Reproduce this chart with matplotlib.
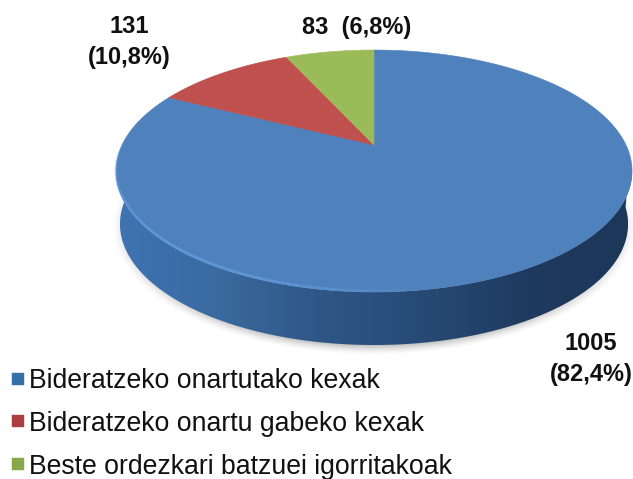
import numpy as np
import matplotlib
matplotlib.use("Agg")
import matplotlib.pyplot as plt
from matplotlib.collections import LineCollection
from matplotlib.colors import LinearSegmentedColormap, to_rgb
from matplotlib.lines import Line2D
from matplotlib.patches import Polygon

plt.rcParams["font.family"] = ["Liberation Sans", "DejaVu Sans"]

# ── Data ──────────────────────────────────────────────────────────────────────
categories = [
    "Bideratzeko onartutako kexak",
    "Bideratzeko onartu gabeko kexak",
    "Beste ordezkari batzuei igorritakoak",
]
values = [1005, 131, 83]
value_labels = ["1005\n(82,4%)", "131\n(10,8%)", "83  (6,8%)"]
slice_colors = ["#4f81bd", "#c0504d", "#9bbb59"]
legend_colors = ["#376fa8", "#a9403f", "#86a84a"]

# ── Geometry of the tilted pie, in pixels ─────────────────────────────────────
CX, CY = 374, 145      # apex of the slices
A, B, K = 252, 115.4, 0.215   # perspective of the unit disc
DEPTH = 53
W, H = 633, 479


def project(theta):
    # theta clockwise from the top of the pie
    X, Y = np.sin(theta), np.cos(theta)
    f = 1 + K * Y
    return CX + A * X / f, CY - B * Y / f


fig = plt.figure(figsize=(W / 100, H / 100), dpi=100)
ax = fig.add_axes([0, 0, 1, 1])
ax.set_xlim(0, W)
ax.set_ylim(H, 0)
ax.axis("off")

# ── Soft shadow under the pie ─────────────────────────────────────────────────
gx, gy = np.meshgrid(np.arange(W) + 0.5, np.arange(H) + 0.5)
dist = np.hypot((gx - 374) / 250, (gy - 227) / 122)
rgba = np.zeros((H, W, 4))
rgba[..., :3] = 0.4
rgba[..., 3] = np.clip((1.05 - dist) / 0.08, 0, 1) ** 1.5 * 0.4
ax.imshow(rgba, extent=(0, W, H, 0), aspect="auto", zorder=1, interpolation="bilinear")

# ── Side wall ─────────────────────────────────────────────────────────────────
side_t = np.linspace(np.pi / 2 + 0.08, 3 * np.pi / 2 + 0.08, 181)
sx, sy = project(side_t)
side_bx = 374 + (sx - 374) * 254 / 258
side_by = sy + DEPTH
side_xy = np.column_stack([np.r_[sx, side_bx[::-1]], np.r_[sy, side_by[::-1]]])

side_cmap = LinearSegmentedColormap.from_list(
    "side", ["#3e74b2", "#3a6a9f", "#2f5685", "#264a75", "#1f3a5f", "#1d3759"]
)
wall = ax.imshow(
    np.linspace(0, 1, 256)[None, :], extent=(116, 632, 360, 170), aspect="auto",
    cmap=side_cmap, zorder=2,
)
clip = Polygon(side_xy, closed=True, transform=ax.transData, fc="none", ec="none")
ax.add_patch(clip)
wall.set_clip_path(clip)

# ── Top face, slices clockwise from 12 o'clock ────────────────────────────────
shares = np.array(values, dtype=float) / sum(values)
edges = np.r_[0, np.cumsum(shares)] * 2 * np.pi
for start, stop, color in zip(edges[:-1], edges[1:], slice_colors):
    px, py = project(np.linspace(start, stop, 240))
    pts = np.column_stack([np.r_[CX, px], np.r_[CY, py]])
    ax.add_patch(Polygon(pts, closed=True, fc=color, ec=color, lw=0.4, zorder=3))

# bevel highlight along the front edge, fading at both ends
hx, hy = project(np.linspace(np.pi * 0.95, np.pi * 1.49, 120))
hy = hy - 1.2
segs = np.stack([np.column_stack([hx[:-1], hy[:-1]]), np.column_stack([hx[1:], hy[1:]])], axis=1)
fade = np.sin(np.linspace(0, np.pi, len(segs))) ** 0.7
hl_rgb = to_rgb("#66a0e4")
ax.add_collection(LineCollection(
    segs, colors=[(*hl_rgb, 0.7 * a) for a in fade], linewidths=2.0, zorder=4,
))

# ── Value labels ──────────────────────────────────────────────────────────────
label_pos = [(591, 359), (129, 42), (357, 27)]
for (lx, ly), lab in zip(label_pos, value_labels):
    ax.text(lx, ly, lab, ha="center", va="center", fontsize=17, fontweight="bold",
            color="#111111", linespacing=1.42, zorder=5)

# ── Legend ────────────────────────────────────────────────────────────────────
handles = [
    Line2D([], [], ls="none", marker="s", ms=9.2, mfc=c, mec=c, mew=0.3, label=n)
    for n, c in zip(categories, legend_colors)
]
ax.legend(
    handles=handles, loc="upper left", bbox_to_anchor=(0.018, 1 - 368 / H),
    frameon=False, fontsize=19.2, labelspacing=0.63, handlelength=0.5,
    handletextpad=0.16, borderpad=0, borderaxespad=0, labelcolor="#111111",
)

fig.savefig("out.png", dpi=100)
